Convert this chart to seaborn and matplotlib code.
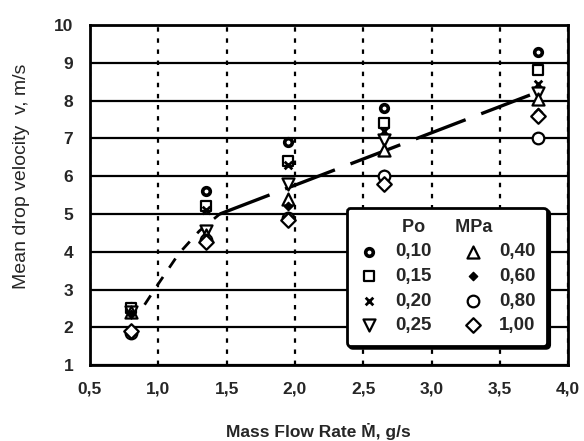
import numpy as np
import pandas as pd
import matplotlib
matplotlib.use("Agg")
import matplotlib.pyplot as plt
import seaborn as sns

# mass flow rate positions where the drops were measured
flow_rate = [0.80, 1.35, 1.95, 2.65, 3.78]

# mean drop velocity for each injection pressure Po (MPa)
v_010 = [2.55, 5.60, 6.90, 7.80, 9.30]
v_015 = [2.50, 5.20, 6.40, 7.40, 8.80]
v_020 = [2.45, 5.10, 6.30, 7.20, 8.45]
v_025 = [2.40, 4.55, 5.80, 6.95, 8.20]
v_040 = [2.40, 4.45, 5.40, 6.70, 8.05]
v_060 = [2.35, 4.35, 5.20, 6.05, 7.70]
v_080 = [1.85, 4.30, 4.90, 6.00, 7.00]
v_100 = [1.90, 4.25, 4.85, 5.80, 7.60]

pressure_labels = ["0,10", "0,15", "0,20", "0,25", "0,40", "0,60", "0,80", "1,00"]

# hand drawn trend curve
curve_x = [0.90, 1.00, 1.15, 1.30, 1.45]
curve_y = [2.60, 3.15, 3.95, 4.55, 5.00]
trend_x = [1.45, 3.72]
trend_y = [5.00, 8.15]

x_ticks = [0.5, 1.0, 1.5, 2.0, 2.5, 3.0, 3.5, 4.0]
x_ticklabels = ["0,5", "1,0", "1,5", "2,0", "2,5", "3,0", "3,5", "4,0"]
y_ticks = list(range(1, 11))

series = [v_010, v_015, v_020, v_025, v_040, v_060, v_080, v_100]
rows = []
for lab, vals in zip(pressure_labels, series):
    for x, v in zip(flow_rate, vals):
        rows.append({"Po": lab, "M": x, "v": v})
df = pd.DataFrame(rows)

sns.set_style("white")
plt.rcParams["font.family"] = ["Liberation Sans", "DejaVu Sans"]

fig = plt.figure(figsize=(5.84, 4.41), dpi=100)
ax = fig.add_axes([0.154, 0.172, 0.819, 0.771])

# marker, size, facecolor, edge width
styles = {
    "0,10": ("o", 30, "white", 2.6),
    "0,15": ("s", 55, "white", 1.6),
    "0,20": ("x", 30, "black", 2.0),
    "0,25": ("v", 75, "white", 1.6),
    "0,40": ("^", 75, "white", 1.6),
    "0,60": ("D", 18, "black", 1.0),
    "0,80": ("o", 70, "white", 1.6),
    "1,00": ("D", 55, "white", 1.6),
}

for lab in pressure_labels:
    m, s, fc, lw = styles[lab]
    sub = df[df["Po"] == lab]
    if m == "x":
        sns.scatterplot(data=sub, x="M", y="v", marker=m, s=s, color="black",
                        linewidth=lw, label=lab, ax=ax, zorder=4)
    else:
        sns.scatterplot(data=sub, x="M", y="v", marker=m, s=s, facecolor=fc,
                        edgecolor="black", linewidth=lw, label=lab, ax=ax, zorder=4)

sns.lineplot(x=curve_x, y=curve_y, color="black", lw=2, ax=ax,
             linestyle=(0, (4, 4)), zorder=3)
sns.lineplot(x=trend_x, y=trend_y, color="black", lw=2.4, ax=ax,
             linestyle=(0, (16, 5)), zorder=3)

ax.set_xlim(0.5, 4.0)
ax.set_ylim(1, 10)
ax.set_xticks(x_ticks)
ax.set_xticklabels(x_ticklabels, fontsize=12.5, fontweight="bold")
ax.set_yticks(y_ticks)
ax.set_yticklabels([str(t) for t in y_ticks], fontsize=12.5, fontweight="bold")
ax.tick_params(axis="both", length=4, width=1.5, color="black", direction="out", pad=8)

ax.yaxis.grid(True, color="black", lw=1.6, ls="-")
ax.xaxis.grid(True, color="black", lw=1.6, ls=(0, (2, 3)))
ax.set_axisbelow(True)
for sp in ax.spines.values():
    sp.set_color("black")
    sp.set_linewidth(2)

ax.set_xlabel("Mass Flow Rate \u1e40, g/s", fontsize=12.5, fontweight="bold")
ax.xaxis.set_label_coords(0.477, -0.17)
ax.set_ylabel("Mean drop velocity  v, m/s", fontsize=14)
ax.yaxis.set_label_coords(-0.125, 0.555)

leg = ax.legend(ncol=2, loc="lower right", bbox_to_anchor=(0.975, 0.03),
                title="Po      MPa", fontsize=13.5, title_fontsize=13,
                frameon=True, fancybox=True, shadow={"color": "black", "alpha": 1},
                handletextpad=0.8, columnspacing=1.6, labelspacing=0.4,
                handlelength=1.2, borderpad=0.6)
leg.get_title().set_fontweight("bold")
for t in leg.get_texts():
    t.set_fontweight("bold")
frame = leg.get_frame()
frame.set_edgecolor("black")
frame.set_linewidth(2)
frame.set_facecolor("white")
frame.set_alpha(1)
leg.set_zorder(10)

fig.savefig("out.png", dpi=100)
